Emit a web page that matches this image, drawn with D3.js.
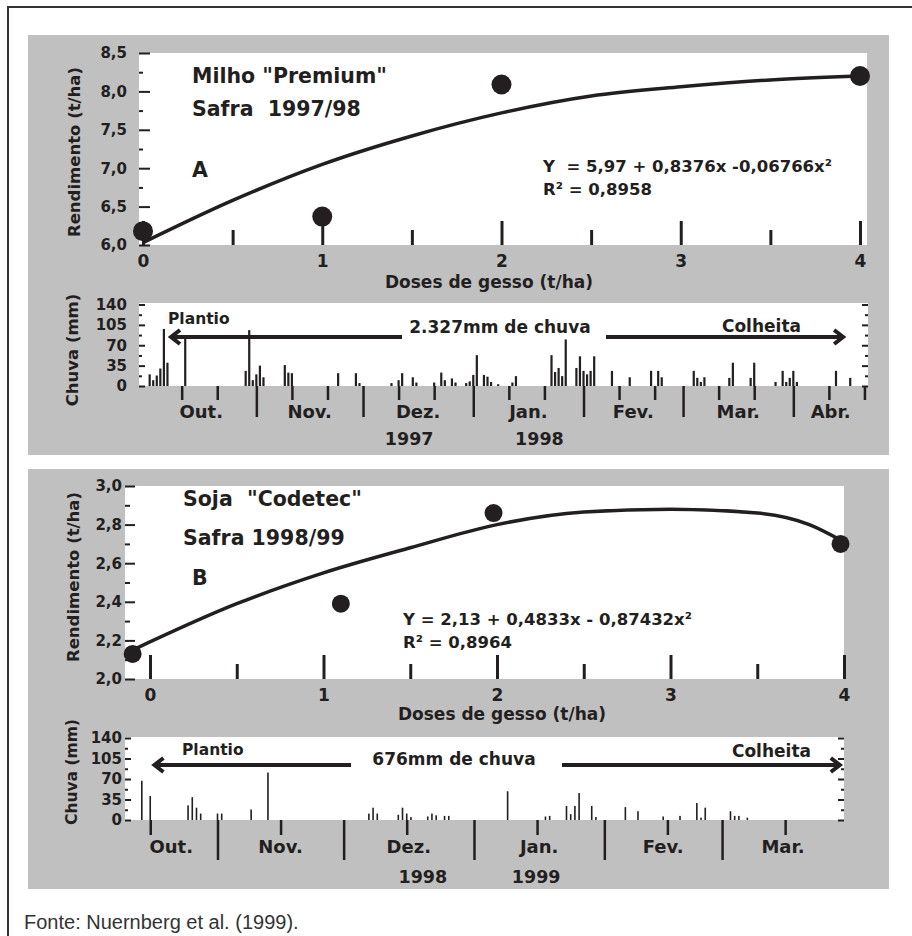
<!DOCTYPE html>
<html>
<head>
<meta charset="utf-8">
<script src="https://cdn.jsdelivr.net/npm/d3@7/dist/d3.min.js"></script>
<style>
  body { margin: 0; background: #ffffff; overflow: hidden; }
  svg { display: block; }
  svg text { font-family: "DejaVu Sans", sans-serif; font-weight: bold; fill: #231f20; white-space: pre; }
</style>
</head>
<body>
<svg id="chart" width="912" height="936"></svg>
<script>
// ---- values ----
// A: Milho "Premium", safra 1997/98
var dosesA = [0, 1, 2, 4];
var yieldA = [6.18, 6.37, 8.09, 8.2];
var fitDosesA = [0, 0.5, 1, 1.5, 2, 2.5, 3, 3.5, 4];
var fitYieldA = [6.03, 6.58, 7.05, 7.42, 7.72, 7.94, 8.06, 8.15, 8.2];
var yTicksA = [6, 6.5, 7, 7.5, 8, 8.5];
var yMinorA = [6.25, 6.75, 7.25, 7.75, 8.25];

// B: Soja "Codetec", safra 1998/99
var dosesB = [-0.1, 1.1, 1.98, 3.98];
var yieldB = [2.13, 2.39, 2.86, 2.7];
var fitDosesB = [-0.1, 0.5, 1, 1.5, 2, 2.5, 3, 3.5, 3.8, 3.98];
var fitYieldB = [2.15, 2.39, 2.55, 2.68, 2.8, 2.865, 2.88, 2.86, 2.8, 2.72];
var yTicksB = [2, 2.2, 2.4, 2.6, 2.8, 3];
var yMinorB = [2.1, 2.3, 2.5, 2.7, 2.9];

var doseTicks = [0, 1, 2, 3, 4];
var doseMinor = [0.5, 1.5, 2.5, 3.5];

// daily rain (mm)
var rainDaysA = ["1997-10-02","1997-10-03","1997-10-04","1997-10-05","1997-10-06","1997-10-07","1997-10-12",
  "1997-10-29","1997-10-30","1997-10-31","1997-11-01","1997-11-02","1997-11-03","1997-11-09","1997-11-10","1997-11-11",
  "1997-11-24","1997-11-29","1997-11-30","1997-12-09","1997-12-11","1997-12-12","1997-12-15","1997-12-16","1997-12-21",
  "1997-12-23","1997-12-24","1997-12-26","1997-12-27","1997-12-30","1997-12-31","1998-01-01","1998-01-02","1998-01-04",
  "1998-01-05","1998-01-06","1998-01-08","1998-01-12","1998-01-13","1998-01-23","1998-01-24","1998-01-25","1998-01-26",
  "1998-01-27","1998-01-30","1998-01-31","1998-02-01","1998-02-02","1998-02-03","1998-02-04","1998-02-09","1998-02-14",
  "1998-02-20","1998-02-22","1998-02-23","1998-03-04","1998-03-05","1998-03-06","1998-03-07","1998-03-14","1998-03-15",
  "1998-03-20","1998-03-21","1998-03-27","1998-03-29","1998-03-30","1998-03-31","1998-04-01","1998-04-02","1998-04-13",
  "1998-04-17"];
var rainMmA = [20, 10, 18, 30, 98, 40, 81,
  26, 96, 10, 20, 35, 15, 36, 23, 22,
  22, 22, 5, 5, 10, 22, 15, 6, 6,
  23, 10, 13, 6, 5, 8, 19, 53, 19,
  16, 7, 3, 6, 17, 53, 24, 31, 17,
  80, 31, 51, 26, 20, 26, 51, 26, 15,
  26, 26, 15, 26, 14, 7, 15, 14, 40,
  14, 40, 7, 26, 7, 14, 26, 7, 26,
  14];

var rainDaysB = ["1998-10-14","1998-10-16","1998-10-25","1998-10-26","1998-10-27","1998-10-28","1998-11-01","1998-11-02",
  "1998-11-09","1998-11-13","1998-12-07","1998-12-08","1998-12-09","1998-12-14","1998-12-15","1998-12-16","1998-12-17",
  "1998-12-21","1998-12-22","1998-12-23","1998-12-25","1998-12-26","1999-01-09","1999-01-18","1999-01-19","1999-01-23",
  "1999-01-24","1999-01-25","1999-01-26","1999-01-29","1999-01-30","1999-02-06","1999-02-09","1999-02-15","1999-02-19",
  "1999-02-23","1999-02-24","1999-02-25","1999-03-03","1999-03-04","1999-03-05","1999-03-07"];
var rainMmB = [67, 41, 25, 39, 21, 11, 11, 11,
  18, 81, 11, 21, 11, 9, 21, 11, 5,
  6, 11, 8, 7, 7, 49, 6, 7, 24,
  10, 24, 46, 24, 5, 22, 15, 6, 7,
  29, 4, 21, 15, 7, 7, 4];

var rainTicks = [0, 35, 70, 105, 140];
var rainMinor = [17.5, 52.5, 87.5, 122.5];
var monthNames = ["Jan.", "Fev.", "Mar.", "Abr.", "Mai.", "Jun.", "Jul.", "Ago.", "Set.", "Out.", "Nov.", "Dez."];

// ---- drawing ----
var ink = "#231f20";
var svg = d3.select("#chart");
var comma1 = d3.formatLocale({decimal: ",", thousands: ".", grouping: [3], currency: ["", ""]}).format(".1f");
var parseDay = d3.utcParse("%Y-%m-%d");

// outer frame (only top and left edges are inside the page) + gray boxes
svg.append("path").attr("d", "M8,936V7H912")
  .attr("fill", "none").attr("stroke", "#333").attr("stroke-width", 2);
svg.append("rect").attr("x", 28).attr("y", 35).attr("width", 861).attr("height", 420).attr("fill", "#c0c0c0");
svg.append("rect").attr("x", 28).attr("y", 469).attr("width", 861).attr("height", 420).attr("fill", "#c0c0c0");

function styleAxis(g, size, width) {
  g.select(".domain").remove();
  g.attr("font-family", null).attr("font-size", null);
  g.selectAll("line").attr("stroke", ink).attr("stroke-width", width);
  g.selectAll("text").style("font-size", size + "px");
}

function addText(g, x, y, str, size, anchor) {
  return g.append("text").attr("x", x).attr("y", y).attr("text-anchor", anchor || "start")
    .style("font-size", size + "px").text(str);
}

function arrow(g, x1, x2, y) {
  var dir = x1 > x2 ? 1 : -1;
  g.append("path")
    .attr("d", `M${x1},${y}H${x2}M${x2 + dir * 9},${y - 7}L${x2},${y}L${x2 + dir * 9},${y + 7}`)
    .attr("fill", "none").attr("stroke", ink).attr("stroke-width", 4);
}

function yieldPanel(p) {
  var g = svg.append("g");
  g.append("rect").attr("x", p.left).attr("y", p.top)
    .attr("width", p.right - p.left).attr("height", p.bottom - p.top).attr("fill", "#fff");

  var x = d3.scaleLinear().domain([0, 4]).range(p.xRange);
  var y = d3.scaleLinear().domain(d3.extent(p.yTicks)).range([p.bottom, p.top]);

  // y ticks point inward, labels sit outside
  g.append("g").attr("transform", `translate(${p.left},0)`)
    .call(d3.axisRight(y).tickValues(p.yTicks).tickSize(p.yMajorLen).tickFormat(""))
    .call(styleAxis, 15, 2);
  g.append("g").attr("transform", `translate(${p.left},0)`)
    .call(d3.axisRight(y).tickValues(p.yMinor).tickSize(p.yMinorLen).tickFormat(""))
    .call(styleAxis, 15, 2);
  g.append("g").attr("transform", `translate(${p.left},0)`)
    .call(d3.axisLeft(y).tickValues(p.yTicks).tickSize(0).tickPadding(p.yPad).tickFormat(comma1))
    .call(styleAxis, 15, 2);

  // dose ticks stand up from the bottom edge
  g.append("g").attr("transform", `translate(0,${p.bottom})`)
    .call(d3.axisTop(x).tickValues(doseTicks).tickSize(24).tickFormat(""))
    .call(styleAxis, 17, 3);
  g.append("g").attr("transform", `translate(0,${p.bottom})`)
    .call(d3.axisTop(x).tickValues(doseMinor).tickSize(15).tickFormat(""))
    .call(styleAxis, 17, 3);
  g.append("g").attr("transform", `translate(0,${p.bottom})`)
    .call(d3.axisBottom(x).tickValues(doseTicks).tickSize(0).tickPadding(10).tickFormat(d3.format("d")))
    .call(styleAxis, 17, 3);

  var line = d3.line().x(d => x(d[0])).y(d => y(d[1])).curve(d3.curveMonotoneX);
  g.append("path").datum(d3.zip(p.fitX, p.fitY)).attr("d", line)
    .attr("fill", "none").attr("stroke", ink).attr("stroke-width", 3.5);

  g.selectAll("circle.pt").data(d3.zip(p.doses, p.yields)).enter().append("circle")
    .attr("class", "pt")
    .attr("cx", d => x(d[0])).attr("cy", d => y(d[1])).attr("r", p.r).attr("fill", ink);

  addText(g, p.xTitle[0], p.xTitle[1], "Doses de gesso (t/ha)", 17, "middle");
  addText(g, 0, 0, "Rendimento (t/ha)", 16.5, "middle")
    .attr("transform", `translate(${p.yTitle[0]},${p.yTitle[1]}) rotate(-90)`);

  p.notes.forEach(n => addText(g, n[0], n[1], n[2], n[3]));
}

function rainPanel(p) {
  var g = svg.append("g");
  g.append("rect").attr("x", p.left).attr("y", p.top)
    .attr("width", p.right - p.left).attr("height", p.bottom - p.top).attr("fill", "#fff");

  var d0 = parseDay(p.domain[0]), d1 = parseDay(p.domain[1]);
  var x = d3.scaleUtc().domain([d0, d1]).range([p.left, p.right]);
  var y = d3.scaleLinear().domain([0, 140]).range([p.bottom, p.y140]);

  [[p.left, d3.axisRight], [p.right, d3.axisLeft]].forEach(function (s) {
    g.append("g").attr("transform", `translate(${s[0]},0)`)
      .call(s[1](y).tickValues(rainTicks).tickSize(6).tickFormat(""))
      .call(styleAxis, 15, 2);
    g.append("g").attr("transform", `translate(${s[0]},0)`)
      .call(s[1](y).tickValues(rainMinor).tickSize(3).tickFormat(""))
      .call(styleAxis, 15, 2);
  });
  g.append("g").attr("transform", `translate(${p.left},0)`)
    .call(d3.axisLeft(y).tickValues(rainTicks).tickSize(0).tickPadding(p.yPad))
    .call(styleAxis, 15, 2);

  // month boundaries (long) and inner ticks (short)
  var months = d3.utcMonth.range(d3.utcMonth.floor(d0), d1);
  var bounds = d3.utcMonth.range(d3.utcDay.offset(d0, 5), d1);
  var inner = [];
  months.forEach(m => p.innerDays.forEach(function (day) {
    var t = d3.utcDay.offset(m, day - 1);
    if (t > d0 && t < d1) inner.push(t);
  }));
  g.append("g").attr("transform", `translate(0,${p.bottom})`)
    .call(d3.axisBottom(x).tickValues(bounds).tickSize(p.longTick).tickFormat(""))
    .call(styleAxis, 17, 2.5);
  g.append("g").attr("transform", `translate(0,${p.bottom})`)
    .call(d3.axisBottom(x).tickValues(inner).tickSize(p.shortTick).tickFormat(""))
    .call(styleAxis, 17, 2.5);

  months.forEach(function (m) {
    var s = m < d0 ? d0 : m;
    var e = d3.utcMonth.offset(m, 1);
    if (e > d1) e = d1;
    if (d3.utcDay.count(s, e) < 6) return;  // sliver of a month: no label
    var cx = (x(s) + x(e)) / 2;
    addText(g, cx, p.monthY, monthNames[m.getUTCMonth()], 18, "middle");
    if (m.getUTCMonth() === 11 || m.getUTCMonth() === 0)
      addText(g, cx + p.yearShift[m.getUTCMonth() === 11 ? 0 : 1], p.yearY, String(m.getUTCFullYear()), 17.5, "middle");
  });

  g.selectAll("rect.bar").data(d3.zip(p.days, p.mm)).enter().append("rect")
    .attr("class", "bar")
    .attr("x", d => x(parseDay(d[0])) - p.barW / 2)
    .attr("y", d => y(d[1]))
    .attr("width", p.barW)
    .attr("height", d => y(0) - y(d[1]))
    .attr("fill", ink);

  addText(g, 0, 0, "Chuva (mm)", p.yTitleSize, "middle")
    .attr("transform", `translate(${p.yTitle[0]},${p.yTitle[1]}) rotate(-90)`);

  // planting / harvest annotation
  addText(g, p.plantLabel[0], p.plantLabel[1], "Plantio", 15.5);
  addText(g, p.harvestLabel[0], p.harvestLabel[1], "Colheita", 17, "end");
  addText(g, p.totalLabel[0], p.totalLabel[1], p.total, 17, "middle");
  arrow(g, p.arrowTails[0], x(parseDay(p.planting)), p.arrowY);
  arrow(g, p.arrowTails[1], x(parseDay(p.harvest)), p.arrowY);
}

yieldPanel({
  left: 139, right: 867, top: 53, bottom: 245, xRange: [143, 860],
  yTicks: yTicksA, yMinor: yMinorA, yMajorLen: 11, yMinorLen: 4, yPad: 12,
  doses: dosesA, yields: yieldA, fitX: fitDosesA, fitY: fitYieldA, r: 10,
  xTitle: [489, 288], yTitle: [80, 152],
  notes: [
    [192, 83, "Milho \"Premium\"", 20.5],
    [192, 116, "Safra  1997/98", 20.5],
    [192, 177, "A", 20.5],
    [543, 172, "Y  = 5,97 + 0,8376x -0,06766x²", 16.5],
    [543, 195, "R² = 0,8958", 16.5]
  ]
});

rainPanel({
  left: 139, right: 868, top: 303, bottom: 386, y140: 304.5,
  domain: ["1997-09-29", "1998-04-22"], yPad: 12,
  days: rainDaysA, mm: rainMmA, barW: 2.2,
  innerDays: [11, 21], longTick: 31, shortTick: 14,
  monthY: 418, yearY: 445, yearShift: [-9, 11],
  yTitle: [78, 350], yTitleSize: 16.5,
  plantLabel: [168, 324], harvestLabel: [801, 332], totalLabel: [500, 332.5],
  total: "2.327mm de chuva", planting: "1997-10-08", harvest: "1998-04-15",
  arrowTails: [402, 606], arrowY: 337
});

yieldPanel({
  left: 125, right: 844, top: 486, bottom: 679, xRange: [150, 844],
  yTicks: yTicksB, yMinor: yMinorB, yMajorLen: 10, yMinorLen: 5, yPad: 3,
  doses: dosesB, yields: yieldB, fitX: fitDosesB, fitY: fitYieldB, r: 9,
  xTitle: [502, 720], yTitle: [79, 577],
  notes: [
    [183, 506, "Soja  \"Codetec\"", 20.5],
    [183, 545, "Safra 1998/99", 20.5],
    [192, 585, "B", 20.5],
    [403, 625, "Y = 2,13 + 0,4833x - 0,87432x²", 16.5],
    [403, 648, "R² = 0,8964", 16.5]
  ]
});

rainPanel({
  left: 125, right: 844, top: 737, bottom: 820, y140: 738,
  domain: ["1998-10-10", "1999-03-30"], yPad: 3,
  days: rainDaysB, mm: rainMmB, barW: 1.6,
  innerDays: [16], longTick: 40, shortTick: 15,
  monthY: 853, yearY: 883, yearShift: [14, -3],
  yTitle: [77, 772], yTitleSize: 15.5,
  plantLabel: [182, 755], harvestLabel: [811, 757], totalLabel: [454, 765],
  total: "676mm de chuva", planting: "1998-10-17", harvest: "1999-03-29",
  arrowTails: [351, 562], arrowY: 765
});

svg.append("text").attr("x", 24).attr("y", 929)
  .style("font-family", "'Liberation Sans', Arial, sans-serif").style("font-weight", "normal")
  .style("font-size", "20px").style("fill", "#333")
  .text("Fonte: Nuernberg et al. (1999).");
</script>
</body>
</html>
